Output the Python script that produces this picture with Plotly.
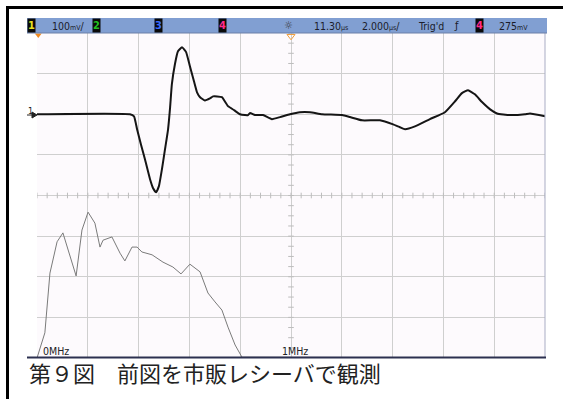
import plotly.graph_objects as go

# Channel 1 time-domain trace: time (µs) vs. voltage (mV), ground reference at 0 mV
ch1_time_us = [1.30, 4.96, 5.12, 5.24, 5.39, 5.55, 5.75, 5.87, 5.99, 6.10, 6.22, 6.34,
               6.46, 6.54, 6.61, 6.73, 6.85, 7.01, 7.17, 7.32, 7.48, 7.60, 7.72, 7.91,
               8.11, 8.23, 8.39, 8.58, 8.82, 9.06, 9.29, 9.49, 9.61, 9.69, 9.88, 10.20,
               10.55, 10.87, 11.26, 11.65, 12.05, 12.52, 13.31, 13.62, 14.10, 14.80,
               15.32, 15.59, 15.79, 16.18, 16.77, 17.36, 17.76, 18.03, 18.27, 18.54,
               18.82, 19.14, 19.41, 19.92, 20.51, 20.71, 21.30]
ch1_mv = [0, 0, -5, -37, -74, -111, -160, -182, -192, -177, -135, -86,
          -37, 17, 74, 123, 155, 165, 153, 118, 81, 54, 42, 34,
          39, 44, 44, 42, 20, 10, 0, -2, -2, 3, -2, -2,
          -12, -7, 0, 5, 5, 0, -2, -7, -15, -15,
          -25, -32, -37, -30, -12, 5, 32, 52, 59, 49,
          30, 12, 2, -2, 0, 2, -5]

# FFT magnitude of the same signal: frequency (MHz) vs. level (divisions above baseline)
fft_freq_mhz = [0.000, 0.031, 0.051, 0.079, 0.102, 0.154, 0.177, 0.201, 0.228, 0.248,
                0.260, 0.295, 0.327, 0.346, 0.374, 0.394, 0.413, 0.453, 0.496, 0.535,
                0.567, 0.602, 0.642, 0.673, 0.701, 0.728, 0.752, 0.780, 0.807, 2.000]
fft_level_div = [0.00, 0.62, 2.09, 2.86, 3.08, 2.02, 3.15, 3.59, 3.32, 2.73,
                 2.90, 2.98, 2.58, 2.39, 2.73, 2.73, 2.61, 2.54, 2.36, 2.24,
                 2.07, 2.31, 2.12, 1.60, 1.38, 1.18, 0.76, 0.32, 0.02, 0.00]

# Scope settings shown on the status bar
volts_per_div = ("100", "mV", "/")
delay = ("11.30", "µs", "")
time_per_div = ("2.000", "µs", "/")
trig_label = "Trig'd"
trig_level = ("275", "mV", "")
freq_labels = ["0MHz", "1MHz"]
caption = "第９図　前図を市販レシーバで観測"

delay_us = 11.30
us_per_div = 2.0
mv_per_div = 100
t_range = [delay_us - 5 * us_per_div, delay_us + 5 * us_per_div]
v_range = [-600, 200]
center_mv = -200

W, H = 563, 399
L, R, T, B = 37, 545, 33, 358


def px(x):
    return (x - L) / (R - L)


def py(y):
    return (B - y) / (B - T)


fig = go.Figure()

# center-line minor ticks
tick_col = "#bdbdbd"
minor_x = [t_range[0] + i * 0.4 for i in range(51)]
minor_y = [v_range[0] + i * 25 for i in range(33)]
fig.add_trace(go.Scatter(x=minor_x, y=[center_mv] * len(minor_x), mode="markers",
                         marker=dict(symbol="line-ns-open", size=4, color=tick_col,
                                     line=dict(color=tick_col, width=1)),
                         hoverinfo="skip", showlegend=False))
fig.add_trace(go.Scatter(x=[delay_us] * len(minor_y), y=minor_y, mode="markers",
                         marker=dict(symbol="line-ew-open", size=4, color=tick_col,
                                     line=dict(color=tick_col, width=1)),
                         hoverinfo="skip", showlegend=False))

# FFT trace
fig.add_trace(go.Scatter(x=fft_freq_mhz, y=fft_level_div, xaxis="x2", yaxis="y2",
                         mode="lines", line=dict(color="#7a7a7a", width=1),
                         hoverinfo="skip", showlegend=False))

# channel 1 trace
fig.add_trace(go.Scatter(x=ch1_time_us, y=ch1_mv, mode="lines",
                         line=dict(color="#151515", width=2, shape="spline", smoothing=0.4),
                         hoverinfo="skip", showlegend=False))

# trigger / delay reference markers
fig.add_trace(go.Scatter(x=[t_range[0] + 0.05], y=[v_range[1] - 5], mode="markers",
                         marker=dict(symbol="triangle-down", size=6, color="#f08a20"),
                         cliponaxis=False, hoverinfo="skip", showlegend=False))
fig.add_trace(go.Scatter(x=[delay_us], y=[v_range[1] - 8], mode="markers",
                         marker=dict(symbol="triangle-down-open", size=7, color="#f0a040",
                                     line=dict(color="#f0a040", width=1)),
                         cliponaxis=False, hoverinfo="skip", showlegend=False))

grid = "#cfcfcf"
fig.update_layout(
    width=W, height=H,
    margin=dict(l=L, r=W - R, t=T, b=H - B),
    paper_bgcolor="white",
    plot_bgcolor="#fdfafd",
    showlegend=False,
    xaxis=dict(range=t_range, tick0=t_range[0], dtick=us_per_div, showgrid=True,
               gridcolor=grid, gridwidth=1, zeroline=False, showticklabels=False,
               ticks="", fixedrange=True),
    yaxis=dict(range=v_range, tick0=v_range[0], dtick=mv_per_div, showgrid=True,
               gridcolor=grid, gridwidth=1, zeroline=False, showticklabels=False,
               ticks="", fixedrange=True),
    xaxis2=dict(range=[0, 2], overlaying="x", visible=False, fixedrange=True),
    yaxis2=dict(range=[0, 8], overlaying="y", visible=False, fixedrange=True),
)

shapes = []
# right edge of screen
shapes.append(dict(type="line", xref="paper", yref="paper", x0=1, x1=1, y0=0, y1=1,
                   line=dict(color="#a9adc4", width=1)))
# bottom edge of screen
shapes.append(dict(type="line", xref="paper", yref="paper", x0=px(27), x1=px(546),
                   y0=py(357.5), y1=py(357.5), line=dict(color="#2c3050", width=2)))
# status bar
shapes.append(dict(type="rect", xref="paper", yref="paper", x0=px(27), x1=px(547),
                   y0=py(33), y1=py(18), fillcolor="#819fd2", line=dict(width=0),
                   layer="above"))
shapes.append(dict(type="line", xref="paper", yref="paper", x0=px(27), x1=px(547),
                   y0=py(33), y1=py(33), line=dict(color="#6a7fa8", width=1)))
# outer black frame (top and left)
shapes.append(dict(type="line", xref="paper", yref="paper", x0=px(6), x1=px(563),
                   y0=py(7.5), y1=py(7.5), line=dict(color="black", width=3)))
shapes.append(dict(type="line", xref="paper", yref="paper", x0=px(7.5), x1=px(7.5),
                   y0=py(6), y1=py(399), line=dict(color="black", width=3)))
# channel 1 ground marker
shapes.append(dict(type="path", xref="paper", yref="paper",
                   path=f"M {px(32)},{py(112)} L {px(37)},{py(115)} L {px(32)},{py(118)} Z",
                   fillcolor="#222", line=dict(color="#222", width=1)))
shapes.append(dict(type="line", xref="paper", yref="paper", x0=px(27), x1=px(34),
                   y0=py(115), y1=py(115), line=dict(color="#222", width=1)))
fig.update_layout(shapes=shapes)

ann = []
hdr_font = "Liberation Sans Narrow, DejaVu Sans Condensed, Roboto, sans-serif"
hy = py(25.5)


def text(x, s, size=11, color="#1b1d2a", anchor="left", y=hy, family=hdr_font, **kw):
    ann.append(dict(x=px(x), y=y, xref="paper", yref="paper", text=s, showarrow=False,
                    xanchor=anchor, yanchor="middle",
                    font=dict(family=family, size=size, color=color), **kw))


def reading(x, parts):
    num, unit, tail = parts
    text(x, num + "<span style='font-size:7px'>" + unit + "</span>" + tail, size=10.5)


def box(x, s, color):
    ann.append(dict(x=px(x), y=hy, xref="paper", yref="paper", text="<b>" + s + "</b>",
                    showarrow=False, xanchor="center", yanchor="middle",
                    bgcolor="#0a0a0a", borderpad=0,
                    font=dict(family=hdr_font, size=11, color=color)))


box(31, "1", "#e6e020")
reading(50, volts_per_div)
box(96, "2", "#20c020")
box(158, "3", "#3a6cff")
box(222, "4", "#ff2a8a")
text(288.5, "☼", size=11, anchor="center", color="#3a3a40")
reading(312, delay)
reading(360, time_per_div)
text(416, trig_label, size=10.5)
text(456, "ƒ", size=11, anchor="center")
box(479, "4", "#ff2a8a")
reading(497, trig_level)

# ground level label
text(30, "1", size=9, anchor="center", y=py(111), color="#222")

# FFT frequency labels
text(41, freq_labels[0], size=10.5, y=py(351), color="#222")
text(280, freq_labels[1], size=10.5, y=py(351), color="#222")

# figure caption
text(27, caption, size=22, y=py(372), family="Noto Sans CJK JP", color="#222")

fig.update_layout(annotations=ann)

fig.write_html("out.html")
